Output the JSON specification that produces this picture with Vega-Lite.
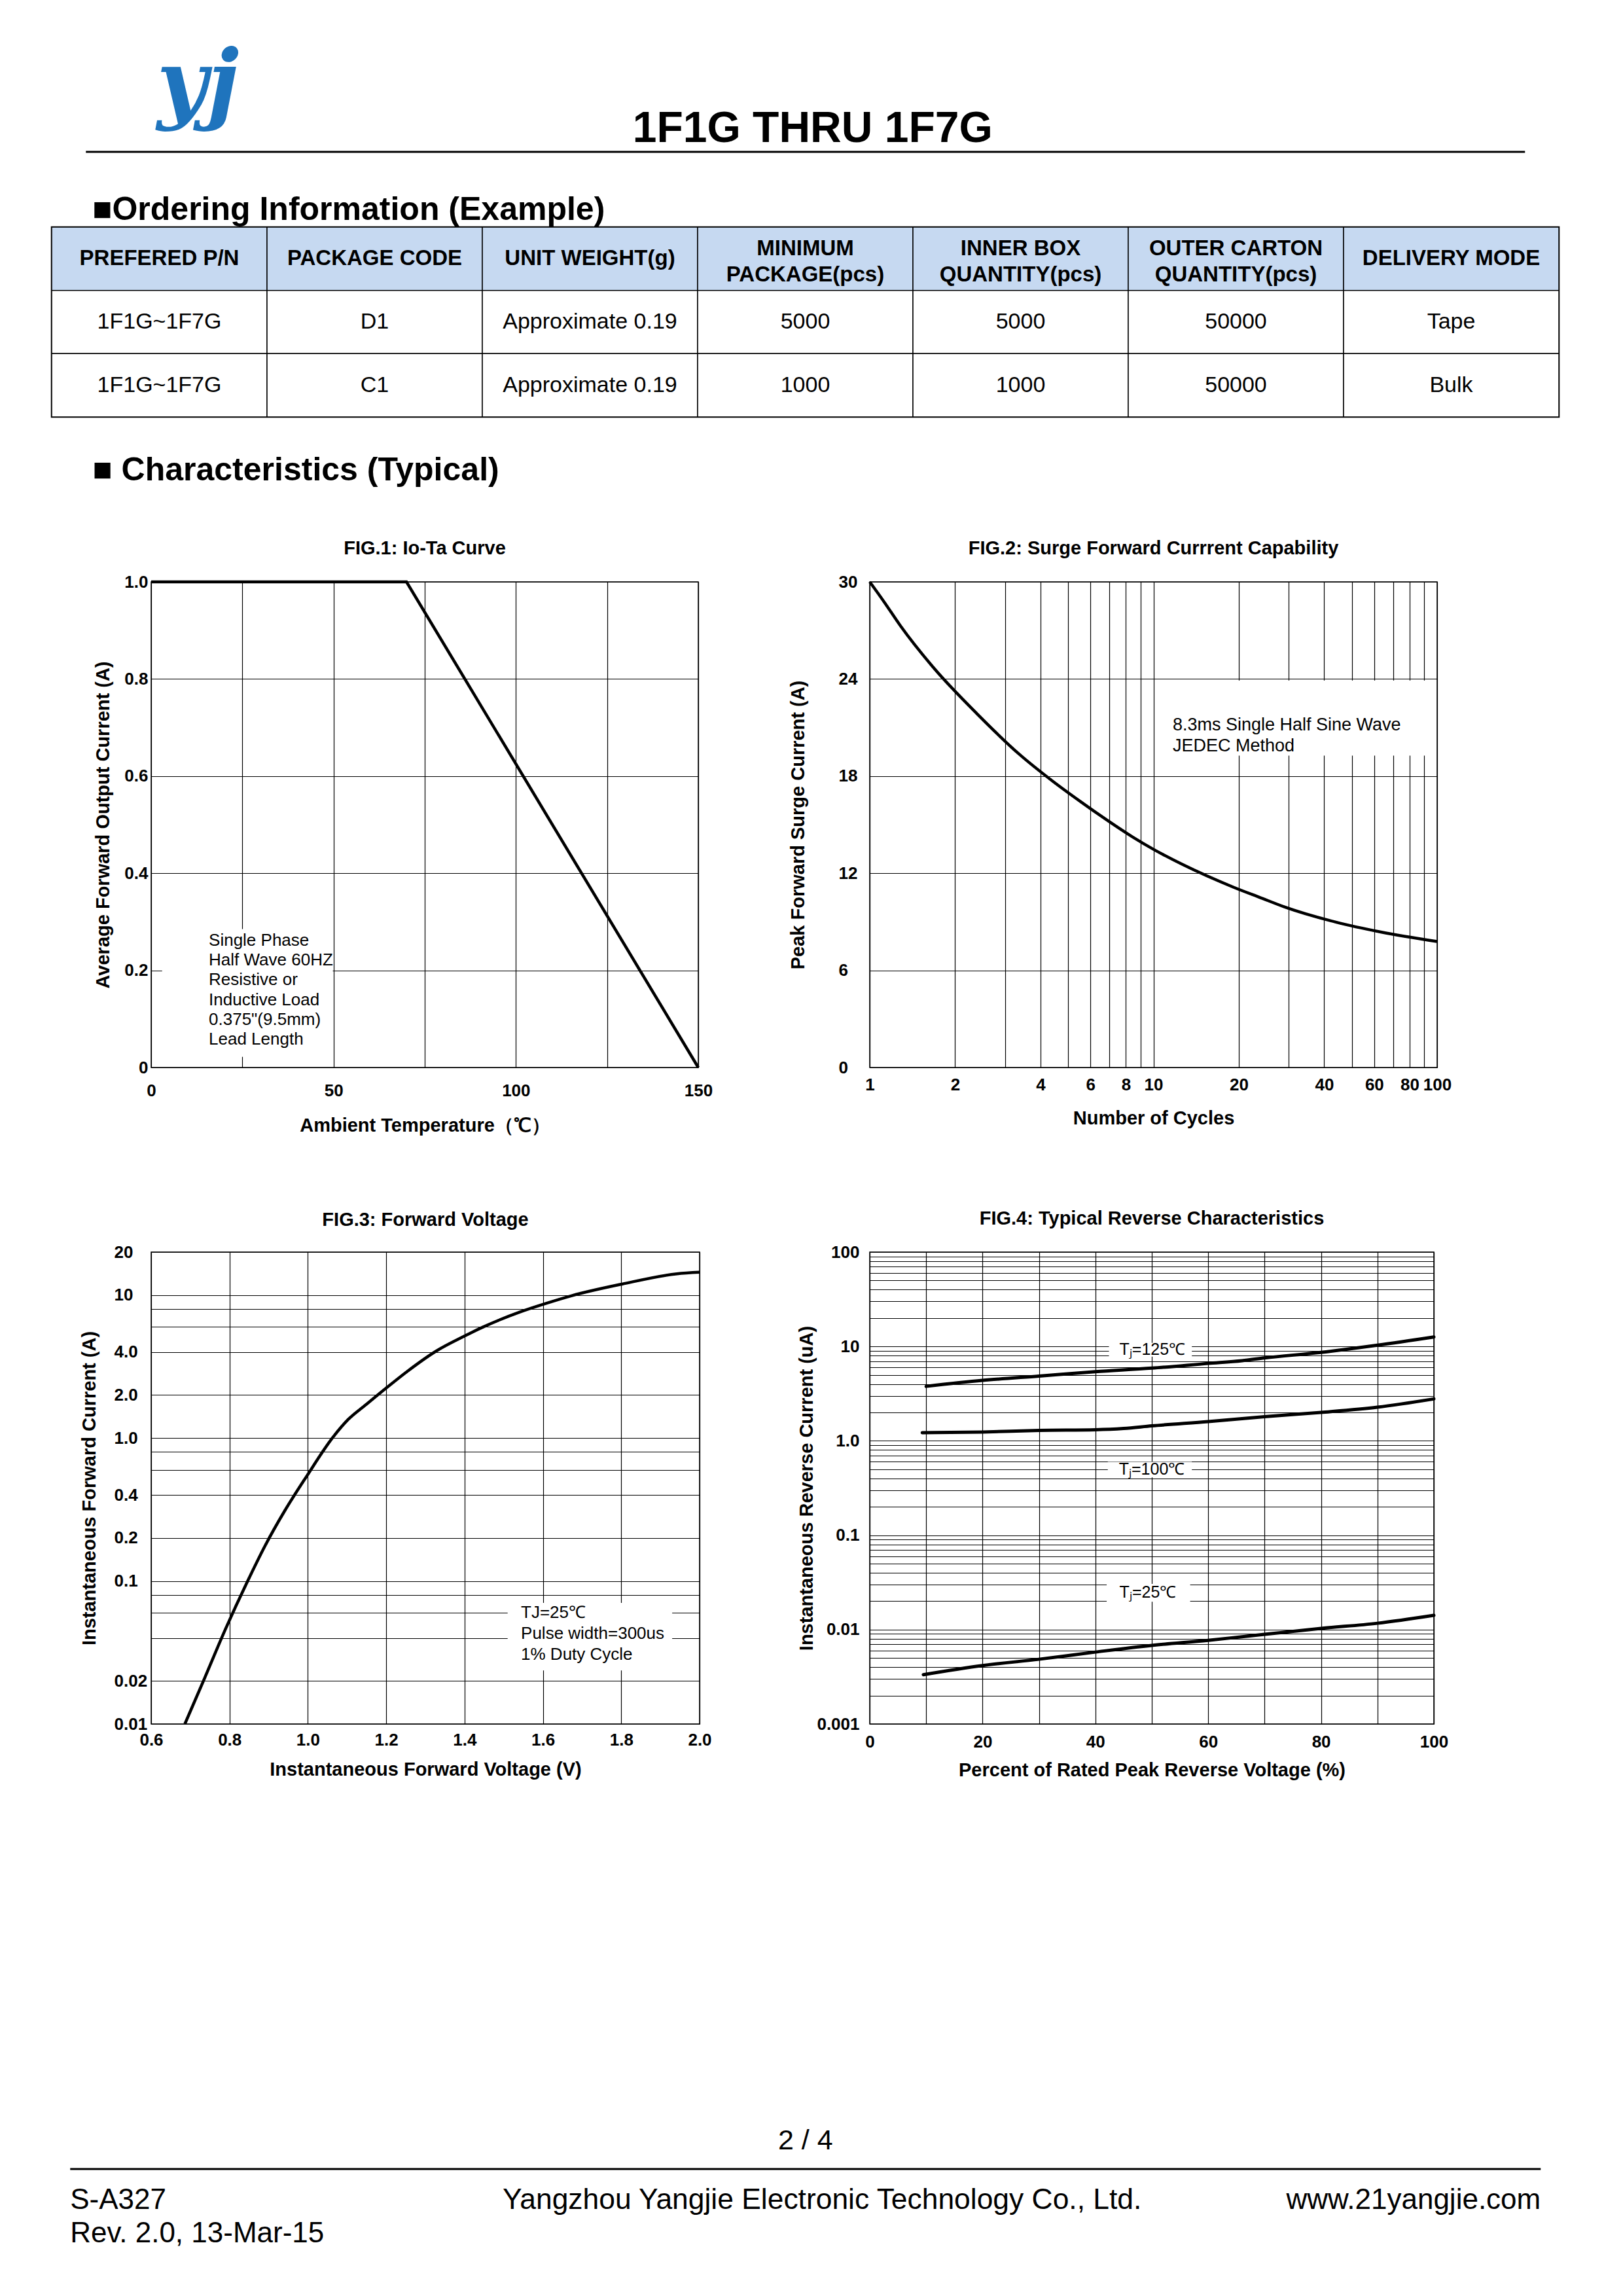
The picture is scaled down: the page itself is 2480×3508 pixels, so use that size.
{
"$schema": "https://vega.github.io/schema/vega-lite/v6.json",
"background": "white",
"padding": {"left": 77, "top": 65, "right": 20, "bottom": 20},
"autosize": {"type": "pad"},
"spacing": 0,
"center": true,
"config": {
  "font": "Liberation Sans",
  "view": {"stroke": "#000000", "strokeWidth": 1.5},
  "axis": {"labelFont": "Liberation Sans", "labelFontSize": 26, "labelFontWeight": "bold", "labelColor": "#000000", "titleFont": "Liberation Sans", "titleFontSize": 29, "titleFontWeight": "bold", "titleColor": "#000000", "gridColor": "#000000", "gridWidth": 1.2, "gridOpacity": 1, "domain": false, "ticks": false, "labelOverlap": false, "labelFlush": false},
  "title": {"font": "Liberation Sans", "fontSize": 29, "fontWeight": "bold", "color": "#000000"},
  "text": {"font": "Liberation Sans", "color": "#000000"}
},
"vconcat": [
  {
    "width": 2199, "height": 30,
    "view": {"stroke": null},
    "title": {"text": "yj", "anchor": "start", "dx": 110, "offset": -35, "font": "DejaVu Serif", "fontSize": 133, "fontStyle": "italic", "fontWeight": "bold", "color": "#1f74bd"},
    "data": {"values": [{"doc": "1F1G THRU 1F7G"}]},
    "layer": [
      {"mark": {"type": "rule", "strokeWidth": 3, "color": "#000000"},
       "encoding": {"y": {"datum": 0, "type": "quantitative", "scale": {"domain": [0, 1]}, "axis": null}}},
      {"mark": {"type": "text", "fontSize": 66, "fontWeight": "bold", "baseline": "alphabetic", "align": "center"},
       "encoding": {"x": {"datum": 0.505, "type": "quantitative", "scale": {"domain": [0, 1]}, "axis": null}, "text": {"field": "doc"}}}
    ]
  },
  {"width": 1, "height": 61, "view": {"stroke": null}, "data": {"values": [{}]}, "mark": {"type": "point", "opacity": 0}},
  {
    "width": 2303, "height": 290,
    "view": {"stroke": "#000000", "strokeWidth": 2.5},
    "title": {"text": "■Ordering Information (Example)", "anchor": "start", "dx": 63, "offset": 0, "fontSize": 50, "fontWeight": "bold"},
    "data": {"values": [
      {"row": 0, "col": 1, "text": "PREFERED P/N"},
      {"row": 0, "col": 2, "text": "PACKAGE CODE"},
      {"row": 0, "col": 3, "text": "UNIT WEIGHT(g)"},
      {"row": 0, "col": 4, "text": ["MINIMUM", "PACKAGE(pcs)"]},
      {"row": 0, "col": 5, "text": ["INNER BOX", "QUANTITY(pcs)"]},
      {"row": 0, "col": 6, "text": ["OUTER CARTON", "QUANTITY(pcs)"]},
      {"row": 0, "col": 7, "text": "DELIVERY MODE"},
      {"row": 1, "col": 1, "text": "1F1G~1F7G"},
      {"row": 1, "col": 2, "text": "D1"},
      {"row": 1, "col": 3, "text": "Approximate 0.19"},
      {"row": 1, "col": 4, "text": "5000"},
      {"row": 1, "col": 5, "text": "5000"},
      {"row": 1, "col": 6, "text": "50000"},
      {"row": 1, "col": 7, "text": "Tape"},
      {"row": 2, "col": 1, "text": "1F1G~1F7G"},
      {"row": 2, "col": 2, "text": "C1"},
      {"row": 2, "col": 3, "text": "Approximate 0.19"},
      {"row": 2, "col": 4, "text": "1000"},
      {"row": 2, "col": 5, "text": "1000"},
      {"row": 2, "col": 6, "text": "50000"},
      {"row": 2, "col": 7, "text": "Bulk"}
    ]},
    "encoding": {
      "x": {"field": "col", "type": "ordinal", "scale": {"paddingInner": 0, "paddingOuter": 0},
            "axis": {"labels": false, "ticks": false, "domain": false, "grid": false, "title": "■ Characteristics (Typical)", "titleFontSize": 50, "titleFontWeight": "bold", "titleAnchor": "start", "titleAlign": "left", "titleX": 62, "titleY": 96, "titleBaseline": "alphabetic"}},
      "y": {"field": "row", "type": "ordinal", "scale": {"paddingInner": 0, "paddingOuter": 0}, "axis": null}
    },
    "layer": [
      {"mark": {"type": "rect", "stroke": "#000000", "strokeWidth": 1.5},
       "encoding": {"fill": {"condition": {"test": "datum.row == 0", "value": "#c6d9f1"}, "value": "#ffffff"}}},
      {"transform": [{"filter": "datum.row == 0 && !isArray(datum.text)"}],
       "mark": {"type": "text", "fontSize": 33, "fontWeight": "bold", "baseline": "middle", "align": "center"},
       "encoding": {"text": {"field": "text"}}},
      {"transform": [{"filter": "datum.row == 0 && isArray(datum.text)"}],
       "mark": {"type": "text", "fontSize": 33, "fontWeight": "bold", "lineHeight": 40, "baseline": "middle", "align": "center"},
       "encoding": {"y": {"field": "row", "type": "ordinal", "bandPosition": 0.34}, "text": {"field": "text"}}},
      {"transform": [{"filter": "datum.row > 0"}],
       "mark": {"type": "text", "fontSize": 34, "baseline": "middle", "align": "center"},
       "encoding": {"text": {"field": "text"}}}
    ]
  },
  {"width": 1, "height": 78, "view": {"stroke": null}, "data": {"values": [{}]}, "mark": {"type": "point", "opacity": 0}},
  {
    "hconcat": [
      {
        "hconcat": [
          {
            "width": 836, "height": 742,
            "title": {"text": "FIG.1: Io-Ta Curve", "offset": 23},
            "layer": [
              {"data": {"values": [{"temp": 0, "io": 1.0}, {"temp": 70, "io": 1.0}, {"temp": 150, "io": 0.0}]},
               "mark": {"type": "line", "strokeWidth": 4.5, "color": "#000000"},
               "encoding": {
                 "x": {"field": "temp", "type": "quantitative", "scale": {"domain": [0, 150], "nice": false},
                       "axis": {"values": [0, 25, 50, 75, 100, 125, 150], "labelExpr": "datum.value % 50 == 0 ? datum.label : ''", "grid": true, "labelPadding": 22, "title": "Ambient Temperature（℃）", "titlePadding": 26}},
                 "y": {"field": "io", "type": "quantitative", "scale": {"domain": [0, 1], "nice": false},
                       "axis": {"values": [0, 0.2, 0.4, 0.6, 0.8, 1], "labelExpr": "datum.value == 0 ? '0' : format(datum.value, '.1f')", "grid": true, "labelPadding": 5, "title": "Average Forward Output Current (A)", "titlePadding": 17}}
               }},
              {"data": {"values": [{}]},
               "mark": {"type": "rect", "fill": "#ffffff"},
               "encoding": {"x": {"datum": 3, "type": "quantitative"}, "x2": {"datum": 49.8}, "y": {"datum": 0.022, "type": "quantitative"}, "y2": {"datum": 0.285}}},
              {"data": {"values": [{}]},
               "mark": {"type": "text", "align": "left", "baseline": "alphabetic", "fontSize": 26, "lineHeight": 30.3},
               "encoding": {"x": {"datum": 15.8, "type": "quantitative"}, "y": {"datum": 0.251, "type": "quantitative"},
                            "text": {"value": ["Single Phase", "Half Wave 60HZ", "Resistive or", "Inductive Load", "0.375\"(9.5mm)", "Lead Length"]}}}
            ]
          },
          {
            "width": 867, "height": 742,
            "title": {"text": "FIG.2: Surge Forward Currrent Capability", "offset": 23},
            "layer": [
              {"data": {"values": [
                 {"cycles": 1, "ifsm": 30}, {"cycles": 1.125, "ifsm": 28.75}, {"cycles": 1.281, "ifsm": 27.3}, {"cycles": 1.695, "ifsm": 24.61},
                 {"cycles": 2.389, "ifsm": 21.85}, {"cycles": 3.367, "ifsm": 19.35}, {"cycles": 4.42, "ifsm": 17.68}, {"cycles": 5.55, "ifsm": 16.41},
                 {"cycles": 6.37, "ifsm": 15.67}, {"cycles": 8.43, "ifsm": 14.25}, {"cycles": 10, "ifsm": 13.48}, {"cycles": 12.7, "ifsm": 12.53},
                 {"cycles": 19.13, "ifsm": 11.14}, {"cycles": 23.92, "ifsm": 10.48}, {"cycles": 28.84, "ifsm": 9.93}, {"cycles": 43.95, "ifsm": 8.98},
                 {"cycles": 63.3, "ifsm": 8.37}, {"cycles": 100, "ifsm": 7.78}
               ]},
               "mark": {"type": "line", "strokeWidth": 4.5, "color": "#000000", "interpolate": "monotone"},
               "encoding": {
                 "x": {"field": "cycles", "type": "quantitative", "scale": {"type": "log", "domain": [1, 100], "nice": false},
                       "axis": {"values": [1, 2, 3, 4, 5, 6, 7, 8, 9, 10, 20, 30, 40, 50, 60, 70, 80, 90, 100], "labelExpr": "indexof([1, 2, 4, 6, 8, 10, 20, 40, 60, 80, 100], datum.value) >= 0 ? format(datum.value, 'd') : ''", "grid": true, "labelPadding": 13, "title": "Number of Cycles", "titlePadding": 24}},
                 "y": {"field": "ifsm", "type": "quantitative", "scale": {"domain": [0, 30], "nice": false},
                       "axis": {"values": [0, 6, 12, 18, 24, 30], "grid": true, "labelAlign": "left", "labelPadding": 48, "title": "Peak Forward Surge Current (A)", "titlePadding": 47}}
               }},
              {"data": {"values": [{}]},
               "mark": {"type": "rect", "fill": "#ffffff"},
               "encoding": {"x": {"datum": 10.94, "type": "quantitative"}, "x2": {"datum": 99}, "y": {"datum": 19.27, "type": "quantitative"}, "y2": {"datum": 23.9}}},
              {"data": {"values": [{}]},
               "mark": {"type": "text", "align": "left", "baseline": "alphabetic", "fontSize": 27, "lineHeight": 32},
               "encoding": {"x": {"datum": 11.69, "type": "quantitative"}, "y": {"datum": 20.82, "type": "quantitative"},
                            "text": {"value": ["8.3ms Single Half Sine Wave", "JEDEC Method"]}}}
            ]
          }
        ],
        "spacing": 114
      },
      {"width": 13, "height": 1, "view": {"stroke": null}, "data": {"values": [{}]}, "mark": {"type": "point", "opacity": 0}}
    ],
    "spacing": 0
  },
  {"width": 1, "height": 112, "view": {"stroke": null}, "data": {"values": [{}]}, "mark": {"type": "point", "opacity": 0}},
  {
    "hconcat": [
      {
        "hconcat": [
          {
            "width": 838, "height": 721,
            "title": {"text": "FIG.3: Forward  Voltage", "offset": 21.5},
            "layer": [
              {"data": {"values": [
                 {"vf": 0.686, "ifwd": 0.01}, {"vf": 0.736, "ifwd": 0.0208}, {"vf": 0.790, "ifwd": 0.0463}, {"vf": 0.846, "ifwd": 0.0996},
                 {"vf": 0.891, "ifwd": 0.177}, {"vf": 0.941, "ifwd": 0.31}, {"vf": 0.997, "ifwd": 0.541}, {"vf": 1.064, "ifwd": 1.013},
                 {"vf": 1.103, "ifwd": 1.35}, {"vf": 1.148, "ifwd": 1.71}, {"vf": 1.201, "ifwd": 2.25}, {"vf": 1.254, "ifwd": 2.93},
                 {"vf": 1.327, "ifwd": 4.05}, {"vf": 1.400, "ifwd": 5.17}, {"vf": 1.445, "ifwd": 5.94}, {"vf": 1.540, "ifwd": 7.59},
                 {"vf": 1.607, "ifwd": 8.73}, {"vf": 1.674, "ifwd": 9.91}, {"vf": 1.802, "ifwd": 11.94}, {"vf": 1.942, "ifwd": 14.09},
                 {"vf": 2.0, "ifwd": 14.45}
               ]},
               "mark": {"type": "line", "strokeWidth": 4.5, "color": "#000000", "interpolate": "monotone"},
               "encoding": {
                 "x": {"field": "vf", "type": "quantitative", "scale": {"domain": [0.6, 2.0], "nice": false, "zero": false},
                       "axis": {"values": [0.6, 0.8, 1.0, 1.2, 1.4, 1.6, 1.8, 2.0], "format": ".1f", "grid": true, "labelPadding": 11, "title": "Instantaneous Forward Voltage (V)", "titlePadding": 18}},
                 "y": {"field": "ifwd", "type": "quantitative", "scale": {"type": "log", "domain": [0.01, 20], "nice": false},
                       "axis": {"values": [0.01, 0.02, 0.04, 0.06, 0.08, 0.1, 0.2, 0.4, 0.6, 0.8, 1, 2, 4, 6, 8, 10, 20],
                                "labelExpr": "indexof([0.01, 0.02, 0.1, 0.2, 0.4, 1, 2, 4, 10, 20], datum.value) >= 0 ? (datum.value >= 10 ? format(datum.value, 'd') : (datum.value >= 1 ? format(datum.value, '.1f') : format(datum.value, '~g'))) : ''",
                                "grid": true, "labelAlign": "left", "labelPadding": 57, "title": "Instantaneous Forward Current (A)", "titlePadding": 23}}
               }},
              {"data": {"values": [{}]},
               "mark": {"type": "rect", "fill": "#ffffff"},
               "encoding": {"x": {"datum": 1.51, "type": "quantitative"}, "x2": {"datum": 1.93}, "y": {"datum": 0.0237, "type": "quantitative"}, "y2": {"datum": 0.0703}}},
              {"data": {"values": [{}]},
               "mark": {"type": "text", "align": "left", "baseline": "alphabetic", "fontSize": 26, "lineHeight": 32},
               "encoding": {"x": {"datum": 1.544, "type": "quantitative"}, "y": {"datum": 0.0552, "type": "quantitative"},
                            "text": {"value": ["TJ=25℃", "Pulse width=300us", "1% Duty Cycle"]}}}
            ]
          },
          {
            "width": 862, "height": 721,
            "title": {"text": "FIG.4: Typical Reverse Characteristics", "offset": 23},
            "layer": [
              {"data": {"values": [
                 {"pct": 10, "ir": 3.78, "tj": "125"}, {"pct": 20, "ir": 4.37, "tj": "125"}, {"pct": 30, "ir": 4.86, "tj": "125"}, {"pct": 40, "ir": 5.40, "tj": "125"},
                 {"pct": 50, "ir": 5.89, "tj": "125"}, {"pct": 60, "ir": 6.61, "tj": "125"}, {"pct": 66, "ir": 7.07, "tj": "125"}, {"pct": 70, "ir": 7.56, "tj": "125"},
                 {"pct": 80, "ir": 8.65, "tj": "125"}, {"pct": 90, "ir": 10.3, "tj": "125"}, {"pct": 100, "ir": 12.6, "tj": "125"},
                 {"pct": 9.3, "ir": 1.22, "tj": "100"}, {"pct": 20, "ir": 1.24, "tj": "100"}, {"pct": 30, "ir": 1.29, "tj": "100"}, {"pct": 40, "ir": 1.31, "tj": "100"},
                 {"pct": 45, "ir": 1.35, "tj": "100"}, {"pct": 50, "ir": 1.44, "tj": "100"}, {"pct": 60, "ir": 1.60, "tj": "100"}, {"pct": 70, "ir": 1.80, "tj": "100"},
                 {"pct": 80, "ir": 2.0, "tj": "100"}, {"pct": 90, "ir": 2.27, "tj": "100"}, {"pct": 100, "ir": 2.78, "tj": "100"},
                 {"pct": 9.5, "ir": 0.00333, "tj": "25"}, {"pct": 20, "ir": 0.00416, "tj": "25"}, {"pct": 30, "ir": 0.00485, "tj": "25"}, {"pct": 40, "ir": 0.00578, "tj": "25"},
                 {"pct": 50, "ir": 0.0068, "tj": "25"}, {"pct": 60, "ir": 0.0077, "tj": "25"}, {"pct": 66, "ir": 0.0084, "tj": "25"}, {"pct": 70, "ir": 0.0089, "tj": "25"},
                 {"pct": 80, "ir": 0.0103, "tj": "25"}, {"pct": 90, "ir": 0.01167, "tj": "25"}, {"pct": 100, "ir": 0.01416, "tj": "25"}
               ]},
               "mark": {"type": "line", "strokeWidth": 5, "color": "#000000", "interpolate": "monotone", "strokeCap": "round"},
               "encoding": {
                 "detail": {"field": "tj", "type": "nominal"},
                 "x": {"field": "pct", "type": "quantitative", "scale": {"domain": [0, 100], "nice": false},
                       "axis": {"values": [0, 10, 20, 30, 40, 50, 60, 70, 80, 90, 100], "labelExpr": "datum.value % 20 == 0 ? datum.label : ''", "grid": true, "labelPadding": 14, "title": "Percent of Rated Peak Reverse Voltage (%)", "titlePadding": 16}},
                 "y": {"field": "ir", "type": "quantitative", "scale": {"type": "log", "domain": [0.001, 100], "nice": false},
                       "axis": {"values": [0.001, 0.002, 0.003, 0.004, 0.005, 0.006, 0.007, 0.008, 0.009, 0.01, 0.02, 0.03, 0.04, 0.05, 0.06, 0.07, 0.08, 0.09, 0.1, 0.2, 0.3, 0.4, 0.5, 0.6, 0.7, 0.8, 0.9, 1, 2, 3, 4, 5, 6, 7, 8, 9, 10, 20, 30, 40, 50, 60, 70, 80, 90, 100],
                                "labelExpr": "indexof([0.001, 0.01, 0.1, 1, 10, 100], datum.value) >= 0 ? (datum.value == 1 ? '1.0' : format(datum.value, '~g')) : ''",
                                "grid": true, "labelPadding": 16, "title": "Instantaneous Reverse Current (uA)", "titlePadding": 0}}
               }},
              {"data": {"values": [{}]}, "mark": {"type": "rect", "fill": "#ffffff"},
               "encoding": {"x": {"datum": 42.4, "type": "quantitative"}, "x2": {"datum": 57.1}, "y": {"datum": 7.8, "type": "quantitative"}, "y2": {"datum": 10.9}}},
              {"data": {"values": [{}]}, "mark": {"type": "rect", "fill": "#ffffff"},
               "encoding": {"x": {"datum": 42.2, "type": "quantitative"}, "x2": {"datum": 57.1}, "y": {"datum": 0.41, "type": "quantitative"}, "y2": {"datum": 0.6}}},
              {"data": {"values": [{}]}, "mark": {"type": "rect", "fill": "#ffffff"},
               "encoding": {"x": {"datum": 42.0, "type": "quantitative"}, "x2": {"datum": 56.8}, "y": {"datum": 0.0197, "type": "quantitative"}, "y2": {"datum": 0.0305}}},
              {"data": {"values": [{}]}, "mark": {"type": "text", "align": "center", "baseline": "middle", "fontSize": 25},
               "encoding": {"x": {"datum": 50.1, "type": "quantitative"}, "y": {"datum": 9.3, "type": "quantitative"}, "text": {"value": "Tⱼ=125℃"}}},
              {"data": {"values": [{}]}, "mark": {"type": "text", "align": "center", "baseline": "middle", "fontSize": 25},
               "encoding": {"x": {"datum": 50.0, "type": "quantitative"}, "y": {"datum": 0.5, "type": "quantitative"}, "text": {"value": "Tⱼ=100℃"}}},
              {"data": {"values": [{}]}, "mark": {"type": "text", "align": "center", "baseline": "middle", "fontSize": 25},
               "encoding": {"x": {"datum": 49.3, "type": "quantitative"}, "y": {"datum": 0.0247, "type": "quantitative"}, "text": {"value": "Tⱼ=25℃"}}}
            ]
          }
        ],
        "spacing": 130
      },
      {"width": 18, "height": 1, "view": {"stroke": null}, "data": {"values": [{}]}, "mark": {"type": "point", "opacity": 0}}
    ],
    "spacing": 0
  },
  {"width": 1, "height": 529, "view": {"stroke": null}, "data": {"values": [{}]}, "mark": {"type": "point", "opacity": 0}},
  {
    "width": 2247, "height": 112,
    "view": {"stroke": null},
    "title": {"text": "2 / 4", "fontSize": 43, "fontWeight": "normal", "offset": 20, "anchor": "middle"},
    "data": {"values": [
      {"part": "code", "line": 1, "text": "S-A327"},
      {"part": "code", "line": 2, "text": "Rev. 2.0, 13-Mar-15"},
      {"part": "company", "line": 1, "text": "Yangzhou Yangjie Electronic Technology Co., Ltd."},
      {"part": "web", "line": 1, "text": "www.21yangjie.com"}
    ]},
    "layer": [
      {"data": {"values": [{}]},
       "mark": {"type": "rule", "strokeWidth": 3, "color": "#000000"},
       "encoding": {"y": {"datum": -0.2, "type": "quantitative", "scale": {"domain": [-0.2, 2], "reverse": true}, "axis": null}}},
      {"transform": [{"filter": "datum.part == 'code'"}],
       "mark": {"type": "text", "align": "left", "baseline": "alphabetic", "fontSize": 44},
       "encoding": {"x": {"datum": 0, "type": "quantitative", "scale": {"domain": [0, 1]}, "axis": null},
                    "y": {"field": "line", "type": "quantitative"}, "text": {"field": "text"}}},
      {"transform": [{"filter": "datum.part == 'company'"}],
       "mark": {"type": "text", "align": "center", "baseline": "alphabetic", "fontSize": 44.4},
       "encoding": {"x": {"datum": 0.5113, "type": "quantitative"}, "y": {"field": "line", "type": "quantitative"}, "text": {"field": "text"}}},
      {"transform": [{"filter": "datum.part == 'web'"}],
       "mark": {"type": "text", "align": "right", "baseline": "alphabetic", "fontSize": 44},
       "encoding": {"x": {"datum": 1, "type": "quantitative"}, "y": {"field": "line", "type": "quantitative"}, "text": {"field": "text"}}}
    ]
  }
]
}
